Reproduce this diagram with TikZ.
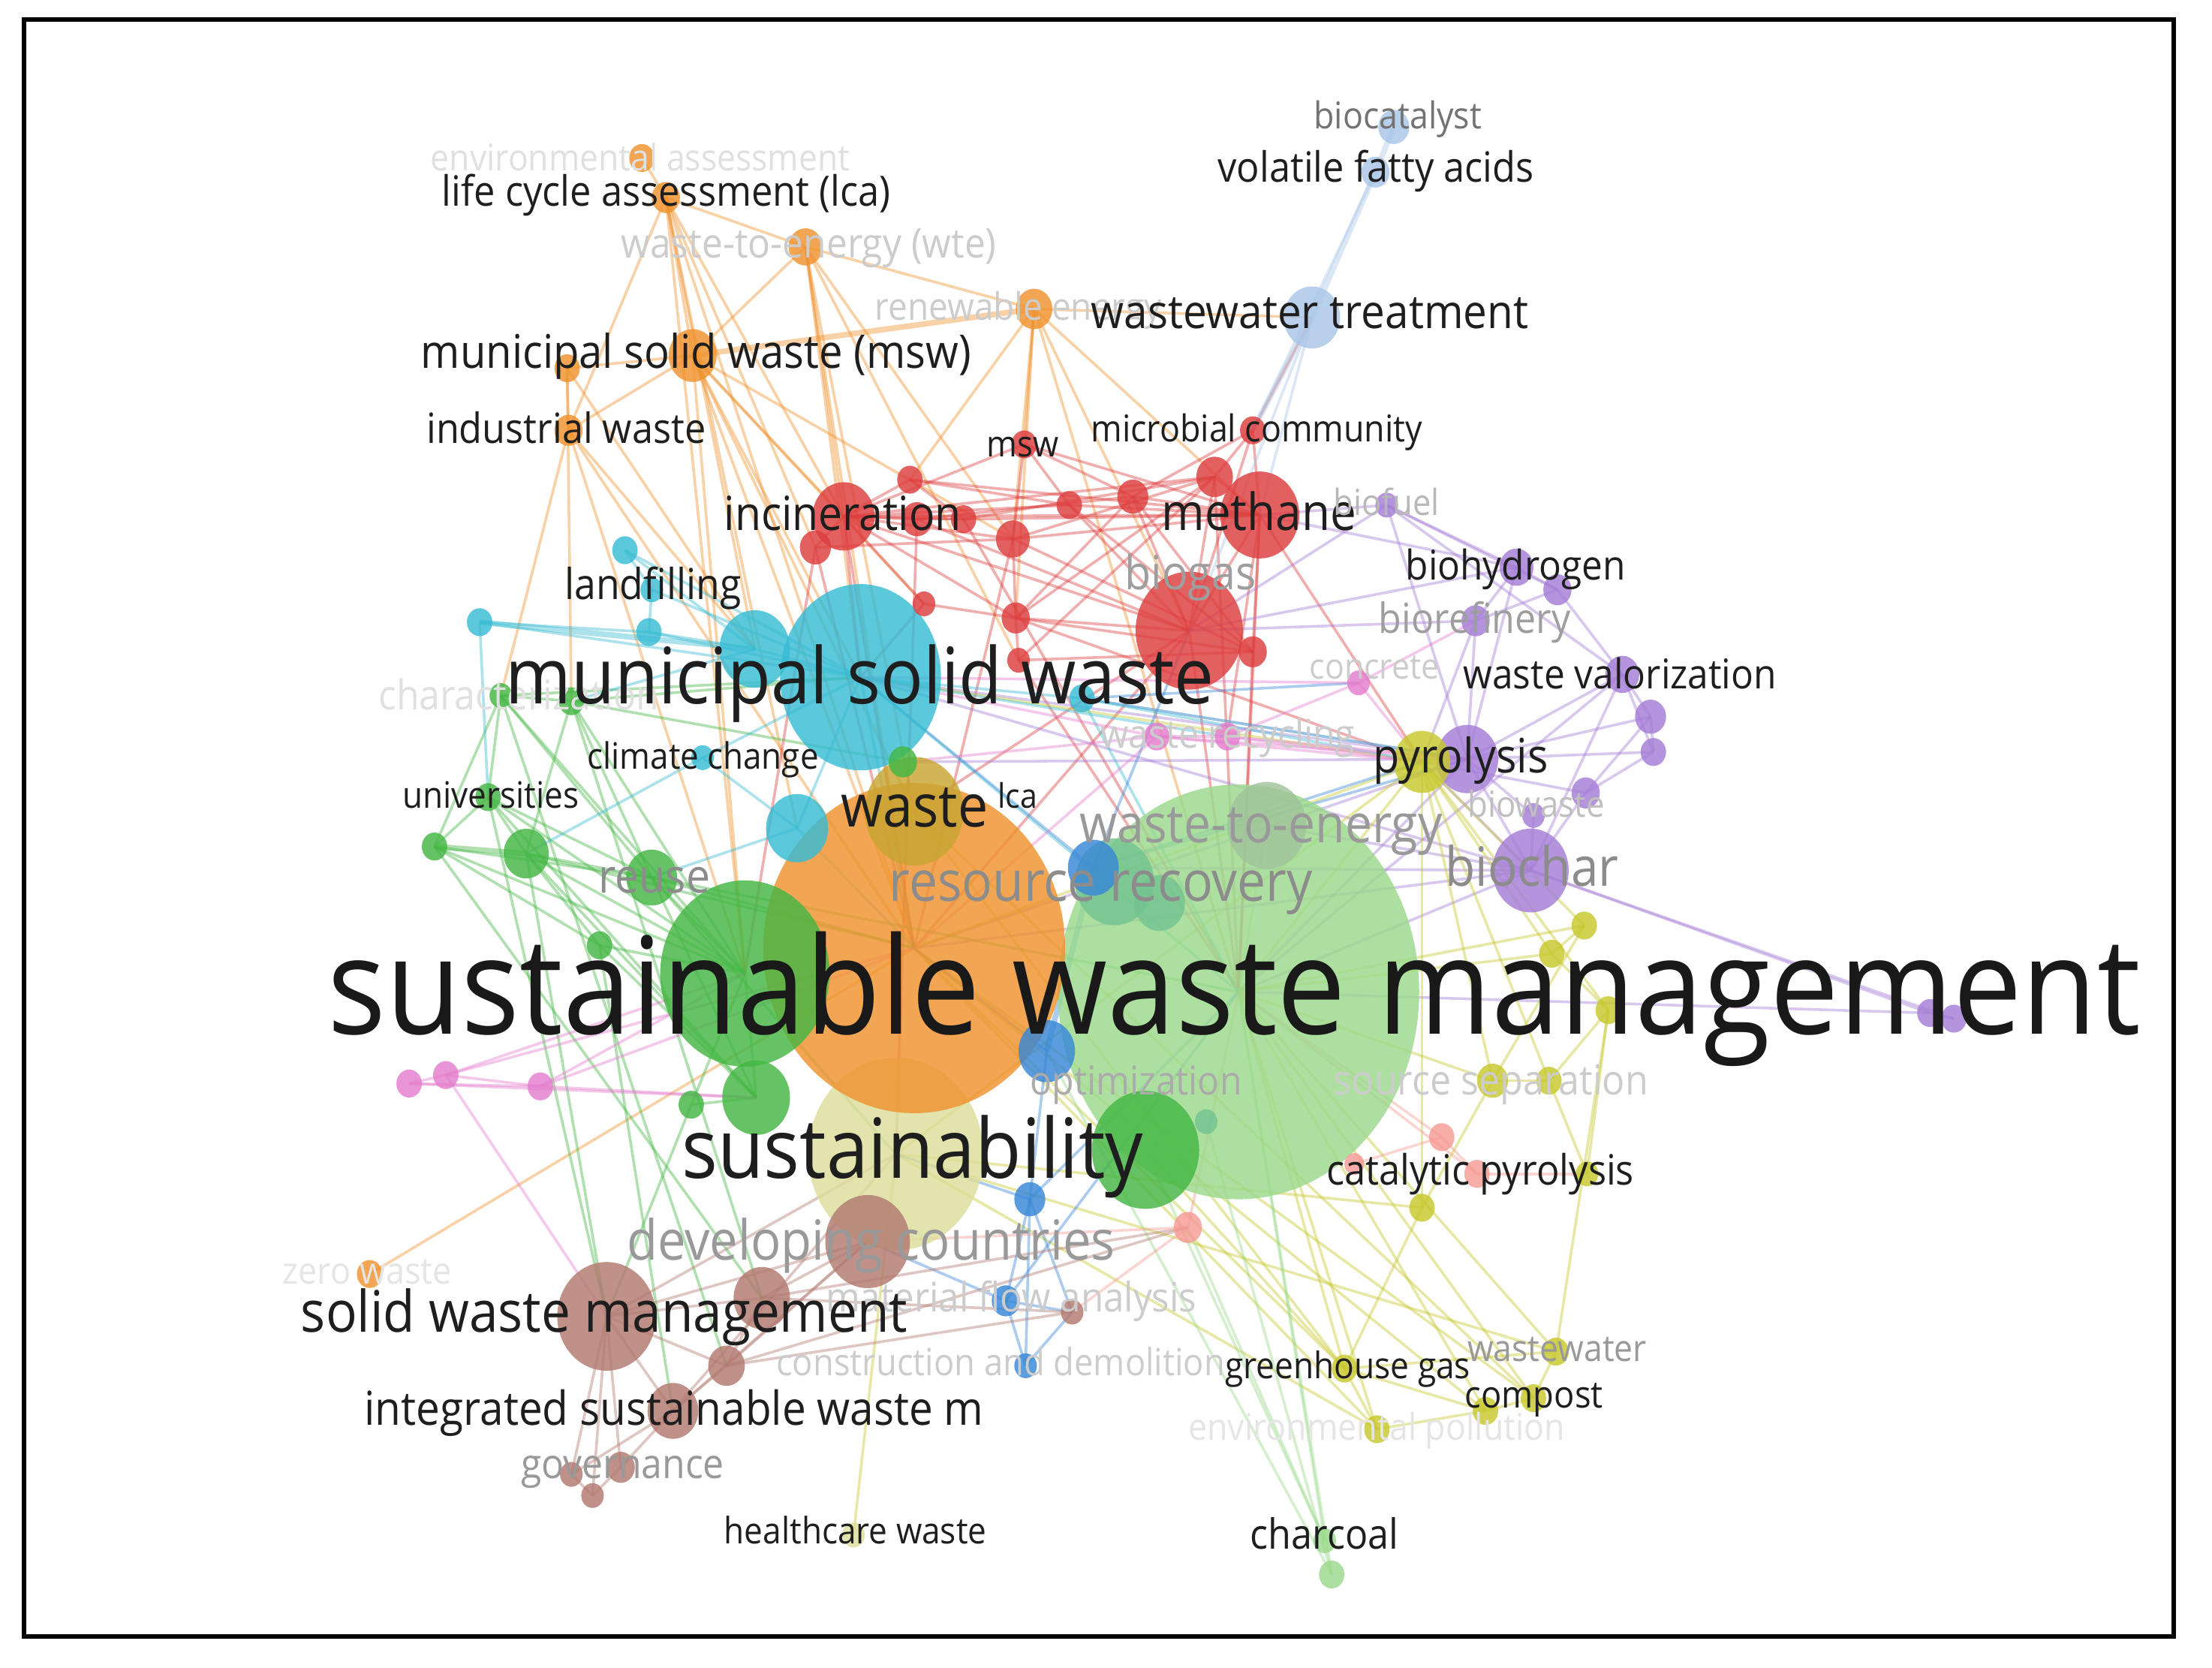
\documentclass[tikz,border=0pt]{standalone}
\usepackage{fontspec}
\setmainfont{Open Sans}
\usepackage{graphicx}
\usetikzlibrary{shapes.geometric}
\pgfdeclarelayer{bg}
\pgfsetlayers{bg,main}
\newlength\ulen
\setlength\ulen{0.2mm}
\newcommand\lbl[2]{\scalebox{1}[1.1]{\resizebox{#1\ulen}{!}{#2}}}
\newcommand\ed[3]{\draw[lnk=#1] (#2.center) -- (#3.center);}
\newcommand\edb[3]{\draw[lnk=#1, line width=0.8mm] (#2.center) -- (#3.center);}
\definecolor{cOr}{RGB}{240,146,45}
\definecolor{cRed}{RGB}{222,62,62}
\definecolor{cGr}{RGB}{68,183,68}
\definecolor{cLg}{RGB}{155,218,140}
\definecolor{cCy}{RGB}{55,188,212}
\definecolor{cBl}{RGB}{55,135,215}
\definecolor{cPu}{RGB}{165,125,215}
\definecolor{cYe}{RGB}{200,200,45}
\definecolor{cBr}{RGB}{178,122,112}
\definecolor{cPk}{RGB}{228,125,205}
\definecolor{cLb}{RGB}{170,198,232}
\definecolor{cSa}{RGB}{246,155,150}
\definecolor{cKh}{RGB}{222,222,155}
\definecolor{cOl}{RGB}{200,165,50}
\definecolor{cGg}{RGB}{160,195,155}
\definecolor{cTe}{RGB}{115,195,145}
\definecolor{tDk}{RGB}{30,30,30}
\begin{document}
\begin{tikzpicture}[x=0.2mm, y=-0.2mm,
  nd/.style={ellipse, inner sep=0pt, draw=none, fill=#1, fill opacity=0.82},
  rad/.style={minimum width=#1*0.4mm, minimum height=#1*0.44mm},
  lnk/.style={draw=#1, line width=0.38mm, draw opacity=0.42},
  lab/.style={anchor=base west, inner sep=0pt, text=#1}]
\useasboundingbox (0,0) rectangle (1568,1182);
% ---------- big nodes ----------
\node[nd=cLg, minimum width=256*0.2mm, minimum height=294*0.2mm] (lgBig) at (878,703) {};
\node[nd=cKh, rad=62] (kSus) at (635,818) {};
\node[nd=cOr, minimum width=214*0.2mm, minimum height=234*0.2mm] (oBig) at (648,672) {};
\node[nd=cGr, minimum width=120*0.2mm, minimum height=132*0.2mm] (gBig) at (528,690) {};
\node[nd=cCy, minimum width=114*0.2mm, minimum height=132*0.2mm] (cMsw) at (610,480) {};
\node[nd=cRed, rad=38] (rBiogas) at (843,447) {};
\node[nd=cOl, rad=35] (yWaste) at (648,575) {};
\node[nd=cGr, rad=38] (lgD) at (812,815) {};
% ---------- orange ----------
\node[nd=cOr, rad=9] (oEa) at (455,112) {};
\node[nd=cOr, rad=10] (oLca) at (472,140) {};
\node[nd=cOr, rad=12] (oWte) at (571,175) {};
\node[nd=cOr, rad=13] (oRe) at (733,219) {};
\node[nd=cOr, rad=17] (oMsw) at (491,252) {};
\node[nd=cOr, rad=9] (oS1) at (402,261) {};
\node[nd=cOr, rad=10] (oInd) at (403,305) {};
\node[nd=cOr, rad=9] (oZw) at (262,903) {};
% ---------- red ----------
\node[nd=cRed, rad=28] (rMeth) at (893,365) {};
\node[nd=cRed, rad=22] (rInc) at (598,366) {};
\node[nd=cRed, rad=9] (rMsw) at (726,315) {};
\node[nd=cRed, rad=9] (rMic) at (888,305) {};
\node[nd=cRed, rad=9] (rA) at (645,340) {};
\node[nd=cRed, rad=11] (rB) at (650,368) {};
\node[nd=cRed, rad=11] (rC) at (578,388) {};
\node[nd=cRed, rad=9] (rD) at (683,368) {};
\node[nd=cRed, rad=12] (rE) at (718,382) {};
\node[nd=cRed, rad=9] (rF) at (758,358) {};
\node[nd=cRed, rad=11] (rG) at (803,352) {};
\node[nd=cRed, rad=13] (rH) at (861,338) {};
\node[nd=cRed, rad=10] (rI) at (720,438) {};
\node[nd=cRed, rad=8] (rJ) at (655,428) {};
\node[nd=cRed, rad=10] (rK) at (888,462) {};
\node[nd=cRed, rad=8] (rL) at (722,468) {};
% ---------- light blue ----------
\node[nd=cLb, rad=11] (bCat) at (988,90) {};
\node[nd=cLb, rad=10] (bVfa) at (975,122) {};
\node[nd=cLb, rad=20] (bWwt) at (930,225) {};
% ---------- purple ----------
\node[nd=cPu, rad=8] (pFuel) at (983,358) {};
\node[nd=cPu, rad=12] (pHyd) at (1075,402) {};
\node[nd=cPu, rad=10] (pHydB) at (1104,418) {};
\node[nd=cPu, rad=10] (pRef) at (1046,440) {};
\node[nd=cPu, rad=12] (pVal) at (1150,478) {};
\node[nd=cPu, rad=11] (pA) at (1170,508) {};
\node[nd=cPu, rad=9] (pB) at (1172,533) {};
\node[nd=cPu, rad=10] (pC) at (1124,562) {};
\node[nd=cPu, rad=22] (pPyr) at (1040,538) {};
\node[nd=cPu, rad=8] (pBw) at (1087,578) {};
\node[nd=cPu, rad=27] (pChar) at (1085,617) {};
\node[nd=cPu, rad=9] (pRa) at (1368,718) {};
\node[nd=cPu, rad=9] (pRb) at (1385,722) {};
% ---------- yellow ----------
\node[nd=cYe, rad=20] (yPyr) at (1008,540) {};
\node[nd=cYe, rad=9] (yA) at (1123,656) {};
\node[nd=cYe, rad=9] (yB) at (1100,676) {};
\node[nd=cYe, rad=9] (yC) at (1140,716) {};
\node[nd=cYe, rad=11] (yD) at (1058,766) {};
\node[nd=cYe, rad=9] (yE) at (1098,766) {};
\node[nd=cYe, rad=9] (yCat) at (1008,856) {};
\node[nd=cYe, rad=8] (yCatB) at (1125,832) {};
\node[nd=cYe, rad=9] (yGhg) at (953,970) {};
\node[nd=cYe, rad=9] (yWw) at (1103,958) {};
\node[nd=cYe, rad=9] (yCpA) at (1087,991) {};
\node[nd=cYe, rad=9] (yCpB) at (1053,1000) {};
\node[nd=cYe, rad=9] (yEp) at (976,1013) {};
\node[nd=cKh, rad=8] (yHc) at (605,1088) {};
% ---------- light green ----------
\node[nd=cGg, rad=28] (lgWte) at (898,585) {};
\node[nd=cTe, rad=28] (lgA) at (790,625) {};
\node[nd=cTe, rad=18] (lgB) at (822,640) {};
\node[nd=cTe, rad=8] (lgC) at (855,795) {};
\node[nd=cLg, rad=8] (lgChA) at (939,1092) {};
\node[nd=cLg, rad=9] (lgChB) at (944,1116) {};
% ---------- green ----------
\node[nd=cGr, rad=24] (gA) at (536,778) {};
\node[nd=cGr, rad=9] (gB) at (490,783) {};
\node[nd=cGr, rad=18] (gC) at (462,622) {};
\node[nd=cGr, rad=16] (gD) at (373,605) {};
\node[nd=cGr, rad=9] (gE) at (308,600) {};
\node[nd=cGr, rad=9] (gF) at (346,565) {};
\node[nd=cGr, rad=8] (gG) at (355,493) {};
\node[nd=cGr, rad=9] (gH) at (405,497) {};
\node[nd=cGr, rad=9] (gI) at (425,670) {};
\node[nd=cGr, rad=10] (gJ) at (640,540) {};
% ---------- cyan ----------
\node[nd=cCy, rad=25] (cA) at (535,460) {};
\node[nd=cCy, rad=9] (cB) at (443,390) {};
\node[nd=cCy, rad=9] (cC) at (340,441) {};
\node[nd=cCy, rad=9] (cD) at (460,448) {};
\node[nd=cCy, rad=8] (cE) at (462,418) {};
\node[nd=cCy, rad=8] (cF) at (498,537) {};
\node[nd=cCy, rad=22] (cG) at (565,587) {};
\node[nd=cCy, rad=9] (cH) at (767,495) {};
% ---------- blue ----------
\node[nd=cBl, rad=20] (blA) at (742,745) {};
\node[nd=cBl, rad=18] (blB) at (775,615) {};
\node[nd=cBl, rad=11] (blC) at (730,850) {};
\node[nd=cBl, rad=10] (blD) at (713,922) {};
\node[nd=cBl, rad=8] (blE) at (727,968) {};
% ---------- brown ----------
\node[nd=cBr, rad=35] (brSwm) at (430,933) {};
\node[nd=cBr, rad=30] (brDev) at (615,880) {};
\node[nd=cBr, rad=20] (brA) at (540,920) {};
\node[nd=cBr, rad=13] (brB) at (515,968) {};
\node[nd=cBr, rad=18] (brC) at (477,1000) {};
\node[nd=cBr, rad=10] (brD) at (440,1040) {};
\node[nd=cBr, rad=8] (brE) at (405,1045) {};
\node[nd=cBr, rad=8] (brF) at (420,1060) {};
\node[nd=cBr, rad=8] (brG) at (760,930) {};
% ---------- pink ----------
\node[nd=cPk, rad=9] (pkA) at (290,768) {};
\node[nd=cPk, rad=9] (pkB) at (316,762) {};
\node[nd=cPk, rad=9] (pkC) at (383,770) {};
\node[nd=cPk, rad=8] (pkCon) at (963,484) {};
\node[nd=cPk, rad=9] (pkD) at (820,522) {};
\node[nd=cPk, rad=9] (pkE) at (870,522) {};
% ---------- salmon ----------
\node[nd=cSa, rad=9] (sA) at (1022,806) {};
\node[nd=cSa, rad=9] (sB) at (1047,832) {};
\node[nd=cSa, rad=10] (sC) at (842,870) {};
\node[nd=cSa, rad=7] (sD) at (960,825) {};
% ---------- links ----------
\begin{pgfonlayer}{bg}
\fill[white] (0,0) rectangle (1568,1182);
% orange
\ed{cOr}{oEa}{oLca}\ed{cOr}{oLca}{oWte}\ed{cOr}{oLca}{oMsw}\ed{cOr}{oLca}{oInd}
\ed{cOr}{oLca}{oBig}\ed{cOr}{oLca}{rInc}\ed{cOr}{oLca}{cA}\ed{cOr}{oWte}{oRe}
\ed{cOr}{oWte}{oMsw}\ed{cOr}{oWte}{rInc}\ed{cOr}{oWte}{yWaste}\ed{cOr}{oWte}{rL}
\edb{cOr}{oRe}{oMsw}\ed{cOr}{oRe}{rMeth}\ed{cOr}{oRe}{rMsw}\ed{cOr}{oRe}{rA}
\ed{cOr}{oRe}{bWwt}\ed{cOr}{oRe}{rBiogas}\ed{cOr}{oMsw}{oS1}\ed{cOr}{oMsw}{oInd}
\ed{cOr}{oMsw}{rInc}\ed{cOr}{oMsw}{oBig}\ed{cOr}{oMsw}{cMsw}\ed{cOr}{oMsw}{gBig}
\ed{cOr}{oS1}{oInd}\ed{cOr}{oS1}{gH}\ed{cOr}{oInd}{gG}\ed{cOr}{oInd}{cA}
\ed{cOr}{oInd}{oBig}\ed{cOr}{oZw}{oBig}\ed{cOr}{oMsw}{rE}\ed{cOr}{oWte}{rE}
\ed{cOr}{oLca}{gBig}\ed{cOr}{oMsw}{yWaste}\ed{cOr}{oInd}{gBig}\ed{cOr}{oS1}{cA}
\ed{cOr}{oWte}{cMsw}\ed{cOr}{oRe}{rE}\ed{cOr}{oRe}{rI}\ed{cOr}{oLca}{rC}
\ed{cOr}{oMsw}{rJ}\ed{cOr}{oWte}{oBig}\ed{cOr}{oRe}{lgBig}\ed{cOr}{oLca}{cG}
% red
\ed{cRed}{rMeth}{rMic}\ed{cRed}{rMeth}{rH}\ed{cRed}{rMeth}{rG}\ed{cRed}{rMeth}{rF}
\ed{cRed}{rMeth}{rBiogas}\ed{cRed}{rMeth}{rK}\ed{cRed}{rMeth}{rInc}\ed{cRed}{rMeth}{rE}
\ed{cRed}{rMeth}{lgBig}\ed{cRed}{rBiogas}{rInc}\ed{cRed}{rBiogas}{rI}\ed{cRed}{rBiogas}{rH}
\ed{cRed}{rBiogas}{rG}\ed{cRed}{rBiogas}{rMic}\ed{cRed}{rBiogas}{lgBig}\ed{cRed}{rInc}{rA}
\ed{cRed}{rInc}{rB}\ed{cRed}{rInc}{rC}\ed{cRed}{rInc}{rD}\ed{cRed}{rInc}{rE}
\ed{cRed}{rInc}{rJ}\ed{cRed}{rInc}{rMsw}\ed{cRed}{rInc}{cMsw}\ed{cRed}{rInc}{rF}
\ed{cRed}{rInc}{oBig}\ed{cRed}{rMsw}{rE}\ed{cRed}{rMsw}{rF}\ed{cRed}{rMsw}{rG}
\ed{cRed}{rMic}{rH}\ed{cRed}{rMic}{bWwt}\ed{cRed}{rA}{rF}\ed{cRed}{rB}{rG}
\ed{cRed}{rD}{rH}\ed{cRed}{rE}{rI}\ed{cRed}{rI}{rL}\ed{cRed}{rI}{rK}
\ed{cRed}{rJ}{cMsw}\ed{cRed}{rL}{lgBig}\ed{cRed}{rH}{rI}\ed{cRed}{rC}{gBig}
\ed{cRed}{rB}{rBiogas}\ed{cRed}{rF}{rK}\ed{cRed}{rMeth}{yPyr}\ed{cRed}{rBiogas}{yWaste}
\ed{cRed}{rA}{rD}\ed{cRed}{rG}{rK}\ed{cRed}{rE}{oBig}\ed{cRed}{rH}{rL}
\ed{cRed}{rMeth}{rA}\ed{cRed}{rMeth}{rD}\ed{cRed}{rH}{rE}\ed{cRed}{rG}{rI}
\ed{cRed}{rMsw}{rMeth}\ed{cRed}{rInc}{rI}\ed{cRed}{rInc}{rH}\ed{cRed}{rC}{rE}
\ed{cRed}{rB}{rD}\ed{cRed}{rJ}{rI}\ed{cRed}{rF}{rBiogas}\ed{cRed}{rL}{rK}
\ed{cRed}{rMic}{rG}\ed{cRed}{rMeth}{pkE}\ed{cRed}{rBiogas}{oBig}\ed{cRed}{rH}{lgBig}
\ed{cRed}{rK}{lgBig}\ed{cRed}{rE}{rK}\ed{cRed}{rD}{lgBig}\ed{cRed}{rB}{kSus}
\ed{cRed}{rI}{yPyr}\ed{cRed}{rC}{oBig}
% light blue
\edb{cLb}{bCat}{bVfa}\edb{cLb}{bVfa}{bWwt}\ed{cLb}{bVfa}{rMic}\edb{cLb}{bWwt}{rMic}
\ed{cLb}{bWwt}{rMeth}\ed{cLb}{bWwt}{rBiogas}
% purple
\ed{cPu}{pFuel}{pHyd}\ed{cPu}{pFuel}{pHydB}\ed{cPu}{pFuel}{pVal}\ed{cPu}{pFuel}{rMeth}
\ed{cPu}{pFuel}{pPyr}\ed{cPu}{pFuel}{rBiogas}\ed{cPu}{pHyd}{pRef}\ed{cPu}{pHyd}{pHydB}
\ed{cPu}{pHyd}{pPyr}\ed{cPu}{pHydB}{pVal}\ed{cPu}{pHydB}{pRef}\ed{cPu}{pRef}{pPyr}
\ed{cPu}{pRef}{yPyr}\ed{cPu}{pVal}{pA}\ed{cPu}{pVal}{pB}\ed{cPu}{pVal}{pPyr}
\ed{cPu}{pVal}{pChar}\ed{cPu}{pA}{pB}\ed{cPu}{pA}{pC}\ed{cPu}{pA}{pPyr}
\ed{cPu}{pB}{pC}\ed{cPu}{pB}{pPyr}\ed{cPu}{pC}{pChar}\ed{cPu}{pPyr}{pChar}
\ed{cPu}{pPyr}{pBw}\ed{cPu}{pBw}{pChar}\ed{cPu}{pChar}{pRa}\ed{cPu}{pChar}{pRb}
\ed{cPu}{pPyr}{lgBig}\ed{cPu}{pChar}{lgBig}\ed{cPu}{pPyr}{oBig}\ed{cPu}{pChar}{oBig}
\ed{cPu}{pPyr}{cMsw}\ed{cPu}{pRa}{pRb}\ed{cPu}{pChar}{yPyr}\ed{cPu}{pHyd}{rMeth}
\ed{cPu}{pVal}{lgBig}\ed{cPu}{pC}{yPyr}\ed{cPu}{pRa}{lgBig}\ed{cPu}{pPyr}{gJ}
\ed{cPu}{pChar}{cMsw}\ed{cPu}{pHyd}{rBiogas}\ed{cPu}{pChar}{blB}\ed{cPu}{pRef}{rBiogas}
\ed{cPu}{pPyr}{cH}\ed{cPu}{pChar}{lgWte}
% yellow
\ed{cYe}{yPyr}{yA}\ed{cYe}{yPyr}{yB}\ed{cYe}{yPyr}{yC}\ed{cYe}{yPyr}{yD}
\ed{cYe}{yPyr}{yE}\ed{cYe}{yPyr}{pPyr}\ed{cYe}{yPyr}{yCat}\ed{cYe}{yPyr}{lgBig}
\ed{cYe}{yPyr}{oBig}\ed{cYe}{yA}{yB}\ed{cYe}{yB}{yC}\ed{cYe}{yC}{yE}
\ed{cYe}{yD}{yE}\ed{cYe}{yD}{yCat}\ed{cYe}{yE}{yCatB}\ed{cYe}{yC}{yCatB}
\ed{cYe}{yCat}{yGhg}\ed{cYe}{yGhg}{yCpB}\ed{cYe}{yGhg}{yEp}\ed{cYe}{yGhg}{yWw}
\ed{cYe}{yCpA}{yCpB}\ed{cYe}{yCpA}{yWw}\ed{cYe}{yCpB}{yEp}\ed{cYe}{yWw}{yC}
\ed{cYe}{yGhg}{lgBig}\ed{cYe}{yCpA}{lgBig}\ed{cYe}{yCpB}{lgBig}\ed{cYe}{yEp}{lgBig}
\ed{cYe}{yGhg}{oBig}\ed{cYe}{yCpB}{oBig}\ed{cYe}{yGhg}{yWaste}\ed{cYe}{yHc}{kSus}
\ed{cYe}{yEp}{kSus}\ed{cYe}{yWw}{lgBig}\ed{cYe}{yA}{lgBig}\ed{cYe}{yB}{lgBig}
\ed{cYe}{yD}{lgBig}\ed{cYe}{yCat}{kSus}\ed{cYe}{yCpA}{yWaste}\ed{cYe}{yEp}{oBig}
\ed{cYe}{yWw}{kSus}\ed{cYe}{yA}{yD}\ed{cYe}{yPyr}{kSus}\ed{cYe}{yPyr}{cMsw}
\ed{cYe}{yGhg}{lgD}\ed{cYe}{yCpA}{oBig}
% green
\ed{cGr}{gBig}{gC}\ed{cGr}{gBig}{gD}\ed{cGr}{gBig}{gE}\ed{cGr}{gBig}{gF}
\ed{cGr}{gBig}{gG}\ed{cGr}{gBig}{gH}\ed{cGr}{gBig}{gA}\ed{cGr}{gBig}{gB}
\ed{cGr}{gBig}{gI}\ed{cGr}{gC}{gD}\ed{cGr}{gC}{gE}\edb{cGr}{gD}{gE}
\ed{cGr}{gD}{gF}\ed{cGr}{gF}{gG}\ed{cGr}{gG}{gH}\ed{cGr}{gH}{gC}
\ed{cGr}{gD}{gH}\ed{cGr}{gF}{gC}\ed{cGr}{gE}{gG}\ed{cGr}{gI}{gD}
\ed{cGr}{gA}{gB}\ed{cGr}{gA}{gC}\ed{cGr}{gI}{gA}\ed{cGr}{gG}{cMsw}
\ed{cGr}{gH}{cMsw}\ed{cGr}{gD}{oBig}\ed{cGr}{gC}{oBig}\ed{cGr}{gE}{gF}
\ed{cGr}{gF}{brSwm}\ed{cGr}{gD}{brSwm}\ed{cGr}{gE}{brA}\ed{cGr}{gI}{brC}
\ed{cGr}{gH}{gJ}\ed{cGr}{gG}{gC}\ed{cGr}{gE}{gI}\ed{cGr}{gB}{brSwm}
\ed{cGr}{gC}{kSus}\ed{cGr}{gD}{gA}\ed{cGr}{gH}{brA}\ed{cGr}{gG}{brB}
\ed{cGr}{gF}{gA}\ed{cGr}{gC}{lgBig}
% light green
\ed{cLg}{lgBig}{lgChA}\ed{cLg}{lgBig}{lgChB}\ed{cLg}{lgC}{lgChB}\ed{cLg}{sC}{lgChA}
\ed{cLg}{lgBig}{lgWte}\ed{cLg}{lgA}{lgB}\ed{cLg}{lgD}{lgChA}\ed{cLg}{blA}{lgChB}
% cyan
\ed{cCy}{cMsw}{cA}\ed{cCy}{cMsw}{cB}\ed{cCy}{cMsw}{cC}\ed{cCy}{cMsw}{cD}
\ed{cCy}{cMsw}{cE}\ed{cCy}{cMsw}{cF}\ed{cCy}{cMsw}{cG}\ed{cCy}{cMsw}{cH}
\ed{cCy}{cA}{cB}\edb{cCy}{cA}{cC}\ed{cCy}{cA}{cD}\ed{cCy}{cB}{cE}
\ed{cCy}{cD}{cE}\ed{cCy}{cC}{cD}\ed{cCy}{cF}{cG}\ed{cCy}{cH}{lgBig}
\ed{cCy}{cMsw}{oBig}\ed{cCy}{cMsw}{lgBig}\ed{cCy}{cC}{gF}\ed{cCy}{cG}{oBig}
\ed{cCy}{cH}{pPyr}\ed{cCy}{cA}{gH}\ed{cCy}{cH}{yPyr}\ed{cCy}{cMsw}{pkE}
\ed{cCy}{cF}{gD}\ed{cCy}{cG}{gC}
% blue
\edb{cBl}{blA}{blB}\ed{cBl}{blA}{blC}\ed{cBl}{blC}{blD}\ed{cBl}{blC}{blE}
\ed{cBl}{blD}{blE}\ed{cBl}{blC}{brG}\ed{cBl}{blD}{brG}\ed{cBl}{blE}{brG}
\ed{cBl}{blD}{brDev}\ed{cBl}{blC}{kSus}\ed{cBl}{blB}{cMsw}\ed{cBl}{blB}{rBiogas}
\ed{cBl}{blA}{oBig}\ed{cBl}{blC}{lgBig}\ed{cBl}{blD}{lgBig}\ed{cBl}{blB}{pPyr}
\ed{cBl}{cH}{pkCon}\ed{cBl}{blB}{yPyr}
% brown
\ed{cBr}{brSwm}{brA}\ed{cBr}{brSwm}{brB}\ed{cBr}{brSwm}{brC}\ed{cBr}{brSwm}{brD}
\ed{cBr}{brSwm}{brE}\ed{cBr}{brSwm}{brF}\ed{cBr}{brSwm}{brDev}\ed{cBr}{brA}{brDev}
\ed{cBr}{brA}{brB}\ed{cBr}{brB}{brC}\ed{cBr}{brC}{brD}\ed{cBr}{brC}{brE}
\ed{cBr}{brD}{brF}\ed{cBr}{brE}{brF}\ed{cBr}{brB}{brG}\ed{cBr}{brA}{brG}
\ed{cBr}{brDev}{brC}\ed{cBr}{brDev}{brB}\ed{cBr}{brSwm}{kSus}\ed{cBr}{brA}{sC}
\ed{cBr}{brB}{sC}\ed{cBr}{brC}{kSus}
% pink
\ed{cPk}{pkA}{pkB}\ed{cPk}{pkB}{pkC}\ed{cPk}{pkA}{pkC}\ed{cPk}{pkB}{gBig}
\ed{cPk}{pkC}{gA}\ed{cPk}{pkC}{oBig}\ed{cPk}{pkB}{oBig}\ed{cPk}{pkC}{gBig}
\ed{cPk}{pkCon}{pkE}\ed{cPk}{pkE}{pkD}\ed{cPk}{pkD}{cMsw}\ed{cPk}{pkD}{gJ}
\ed{cPk}{pkCon}{pRef}\ed{cPk}{pkCon}{yPyr}\ed{cPk}{pkE}{pPyr}\ed{cPk}{pkD}{yPyr}
\ed{cPk}{pkB}{brSwm}\ed{cPk}{pkA}{gA}\ed{cPk}{pkD}{pPyr}\ed{cPk}{pkE}{yPyr}
\ed{cPk}{pkCon}{cMsw}\ed{cPk}{pkD}{oBig}
% salmon
\ed{cSa}{sA}{sB}\ed{cSa}{sA}{lgBig}\ed{cSa}{sB}{lgBig}\ed{cSa}{sB}{yCatB}
\ed{cSa}{sC}{lgBig}\ed{cSa}{sC}{brDev}\ed{cSa}{sD}{sA}\ed{cSa}{sC}{brG}
\end{pgfonlayer}
% ---------- frame ----------
\draw[line width=0.65mm] (17,14) rectangle (1541,1160);
% ---------- labels ----------
\node[lab=black!55] (tCat) at (931,91) {\lbl{119}{biocatalyst}};
\node[lab=tDk] (tVfa) at (863,129) {\lbl{224}{volatile fatty acids}};
\node[lab=black!12] (tEa) at (305,121) {\lbl{297}{environmental assessment}};
\node[lab=tDk] (tLca) at (313,146) {\lbl{318}{life cycle assessment (lca)}};
\node[lab=black!20] (tWte) at (440,183) {\lbl{266}{waste-to-energy (wte)}};
\node[lab=black!20] (tRe) at (620,227) {\lbl{203}{renewable energy}};
\node[lab=tDk] (tWwt) at (773,233) {\lbl{310}{wastewater treatment}};
\node[lab=tDk] (tMswo) at (298,261) {\lbl{390}{municipal solid waste (msw)}};
\node[lab=tDk] (tInd) at (302,314) {\lbl{198}{industrial waste}};
\node[lab=tDk] (tMsw) at (699,324) {\lbl{51}{msw}};
\node[lab=tDk] (tMic) at (773,313) {\lbl{235}{microbial community}};
\node[lab=tDk] (tInc) at (513,376) {\lbl{168}{incineration}};
\node[lab=tDk] (tMeth) at (823,376) {\lbl{138}{methane}};
\node[lab=black!28] (tFuel) at (945,365) {\lbl{75}{biofuel}};
\node[lab=tDk] (tHyd) at (996,411) {\lbl{156}{biohydrogen}};
\node[lab=tDk] (tLand) at (400,425) {\lbl{125}{landfilling}};
\node[lab=black!38] (tBiogas) at (797,418) {\lbl{93}{biogas}};
\node[lab=black!38] (tRef) at (977,449) {\lbl{136}{biorefinery}};
\node[lab=black!12] (tChar) at (268,503) {\lbl{199}{characterization}};
\node[lab=black!20] (tCon) at (928,481) {\lbl{92}{concrete}};
\node[lab=tDk] (tVal) at (1037,488) {\lbl{222}{waste valorization}};
\node[lab=black!20] (tRec) at (780,530) {\lbl{180}{waste recycling}};
\node[lab=tDk] (tMswc) at (358,499) {\lbl{502}{municipal solid waste}};
\node[lab=tDk] (tCc) at (416,545) {\lbl{164}{climate change}};
\node[lab=tDk] (tPyr) at (973,548) {\lbl{124}{pyrolysis}};
\node[lab=tDk] (tUni) at (285,573) {\lbl{125}{universities}};
\node[lab=tDk] (tWaste) at (596,586) {\lbl{104}{waste}};
\node[lab=tDk] (tLcaS) at (707,573) {\lbl{28}{lca}};
\node[lab=black!25] (tBw) at (1040,579) {\lbl{97}{biowaste}};
\node[lab=black!40] (tWe) at (765,597) {\lbl{257}{waste-to-energy}};
\node[lab=black!45] (tReuse) at (424,633) {\lbl{79}{reuse}};
\node[lab=black!45] (tRr) at (630,639) {\lbl{300}{resource recovery}};
\node[lab=black!45] (tBc) at (1024,628) {\lbl{123}{biochar}};
\node[lab=black!33] (tOpt) at (730,776) {\lbl{150}{optimization}};
\node[lab=black!20] (tSs) at (945,776) {\lbl{223}{source separation}};
\node[lab=black!90] (tSwm) at (232,733) {\lbl{1285}{sustainable waste management}};
\node[lab=tDk] (tSus) at (483,835) {\lbl{327}{sustainability}};
\node[lab=tDk] (tCp) at (940,840) {\lbl{218}{catalytic pyrolysis}};
\node[lab=black!40] (tDev) at (444,893) {\lbl{346}{developing countries}};
\node[lab=black!10] (tZw) at (200,910) {\lbl{120}{zero waste}};
\node[lab=black!20] (tMfa) at (585,930) {\lbl{263}{material flow analysis}};
\node[lab=tDk] (tSolid) at (213,944) {\lbl{430}{solid waste management}};
\node[lab=black!20] (tCd) at (550,975) {\lbl{318}{construction and demolition}};
\node[lab=tDk] (tGhg) at (868,977) {\lbl{174}{greenhouse gas}};
\node[lab=black!40] (tWw) at (1040,965) {\lbl{127}{wastewater}};
\node[lab=tDk] (tComp) at (1038,998) {\lbl{98}{compost}};
\node[lab=tDk] (tIsw) at (258,1010) {\lbl{439}{integrated sustainable waste m}};
\node[lab=black!10] (tEp) at (842,1021) {\lbl{267}{environmental pollution}};
\node[lab=black!40] (tGov) at (369,1048) {\lbl{144}{governance}};
\node[lab=tDk] (tHc) at (513,1094) {\lbl{186}{healthcare waste}};
\node[lab=tDk] (tCh) at (886,1098) {\lbl{105}{charcoal}};
\end{tikzpicture}
\end{document}
